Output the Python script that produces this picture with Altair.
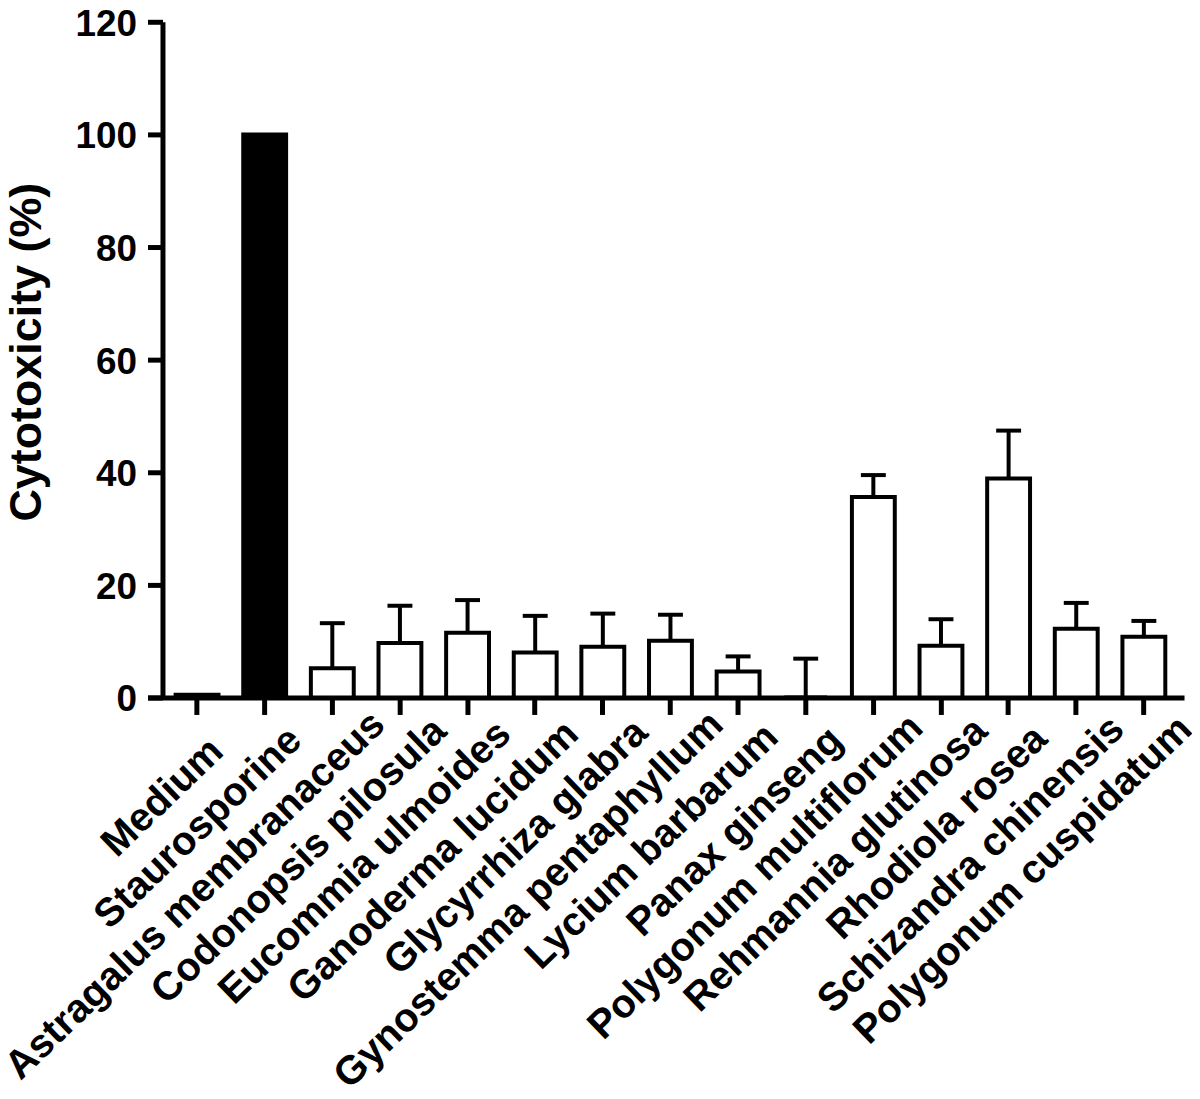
import altair as alt
import pandas as pd

FONT = "Liberation Sans"

categories = [
    "Medium", "Staurosporine", "Astragalus membranaceus", "Codonopsis pilosula",
    "Eucommia ulmoides", "Ganoderma lucidum", "Glycyrrhiza glabra",
    "Gynostemma pentaphyllum", "Lycium barbarum", "Panax ginseng",
    "Polygonum multiflorum", "Rehmannia glutinosa", "Rhodiola rosea",
    "Schizandra chinensis", "Polygonum cuspidatum",
]
values = [0.5, 100.0, 5.2, 9.7, 11.5, 8.0, 9.0, 10.1, 4.6, 0.0, 35.6, 9.2, 38.9, 12.2, 10.8]
errors = [0.0, 0.0, 8.0, 6.6, 5.8, 6.5, 5.9, 4.6, 2.7, 6.9, 3.9, 4.7, 8.5, 4.6, 2.8]
fills = ["white", "black"] + ["white"] * 13
y_ticks = [0, 20, 40, 60, 80, 100, 120]

df = pd.DataFrame({
    "category": categories,
    "value": values,
    "err": errors,
    "fill": fills,
})
df["top"] = df["value"] + df["err"]

x_enc = alt.X(
    "category:N",
    sort=categories,
    scale=alt.Scale(paddingInner=0.366, paddingOuter=0.346, align=0.6),
    axis=alt.Axis(
        title=None,
        labelAngle=-44,
        labelAlign="right",
        labelBaseline="top",
        labelFont=FONT,
        labelFontSize=40,
        labelFontWeight="bold",
        labelColor="black",
        labelLimit=1000,
        labelOverlap=False,
        labelOffset=alt.ExprRef("-3.4 + 1.57*length(datum.label)"),
        labelPadding=alt.ExprRef("25.4 - 1.57*length(datum.label)"),
        tickSize=17,
        tickWidth=5,
        tickColor="black",
        domainWidth=5,
        domainColor="black",
    ),
)

y_scale = alt.Scale(domain=[0, 120], nice=False)
y_axis = alt.Axis(
    values=y_ticks,
    title="Cytotoxicity (%)",
    titleFont=FONT,
    titleFontSize=45,
    titleFontWeight="bold",
    titleColor="black",
    titlePadding=26,
    titleY=331,
    labelFont=FONT,
    labelFontSize=37,
    labelFontWeight="bold",
    labelColor="black",
    labelPadding=11,
    labelOffset=2.5,
    tickSize=15,
    tickWidth=5,
    tickColor="black",
    domainWidth=5,
    domainColor="black",
    offset=-15,
    grid=False,
)

base = alt.Chart(df)

bars = base.mark_bar(stroke="black", strokeWidth=4).encode(
    x=x_enc,
    y=alt.Y("value:Q", scale=y_scale, axis=y_axis),
    fill=alt.Fill("fill:N", scale=None),
)

err_rule = base.transform_filter("datum.err > 0").mark_rule(
    color="black", strokeWidth=4
).encode(
    x=alt.X("category:N", sort=categories),
    y=alt.Y("value:Q"),
    y2="top:Q",
)

err_cap = base.transform_filter("datum.err > 0").mark_tick(
    color="black", thickness=4, size=25, opacity=1
).encode(
    x=alt.X("category:N", sort=categories),
    y=alt.Y("top:Q"),
)

chart = alt.layer(bars, err_rule, err_cap).properties(
    width=1040,
    height=678,
    padding={"left": 140, "top": 12, "right": 8, "bottom": 398},
    autosize=alt.AutoSizeParams(type="none"),
    background="white",
).configure_view(strokeWidth=0)

chart.save("out.html", embed_options={"renderer": "svg", "actions": False})
